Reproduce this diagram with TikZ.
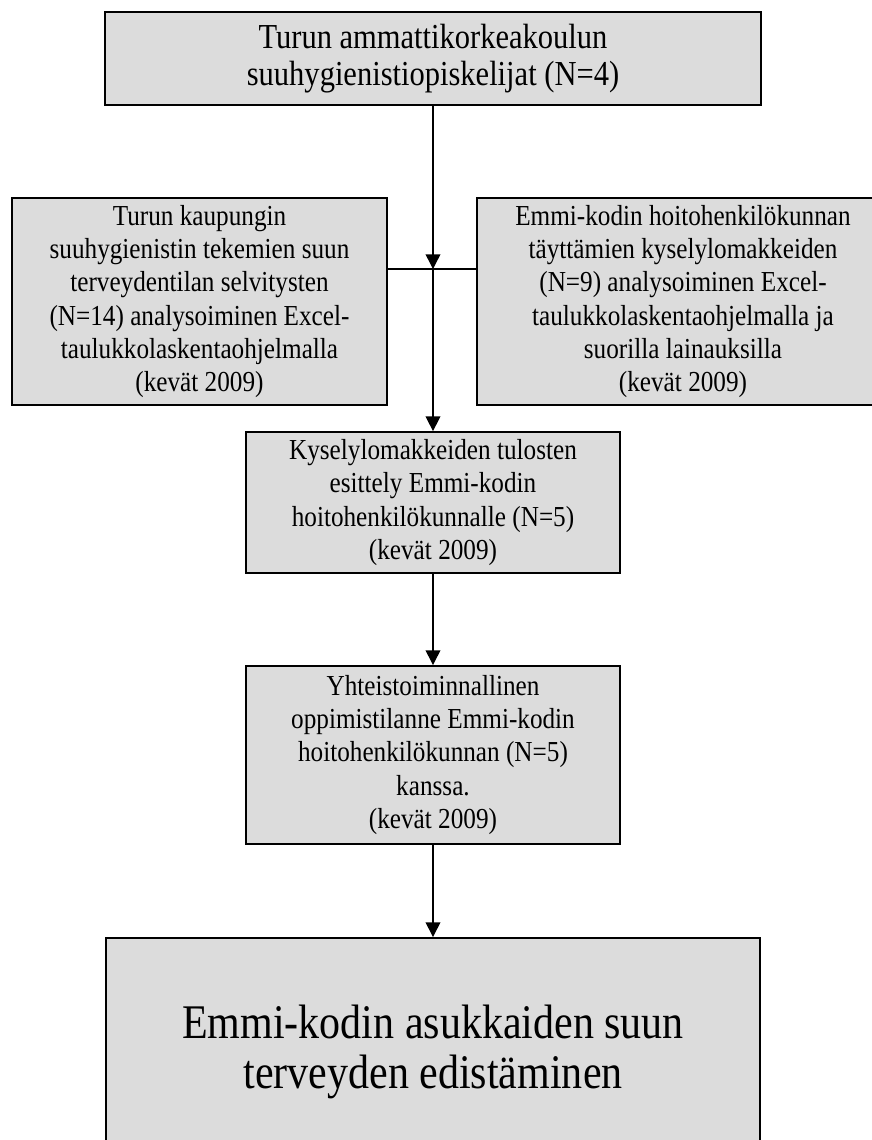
\documentclass[tikz,border=0pt]{standalone}
\usepackage{fontspec}
\setmainfont[FakeStretch=0.87]{Liberation Serif}
\usetikzlibrary{arrows.meta}
\definecolor{boxgray}{RGB}{220,220,220}

\begin{document}
\begin{tikzpicture}[
  x=0.4762pt, y=-0.4762pt,
  box/.style={draw, line width=0.9pt, fill=boxgray, align=center, inner sep=0pt,
    font=\fontsize{13.8}{15.8}\selectfont},
  flow/.style={line width=0.7pt, -{Triangle[width=7pt,length=7pt]}}
]
\clip (0,0) rectangle (872,1140);

\node [box, minimum width=312.4pt, minimum height=44.3pt,
  font=\fontsize{16.7}{17.8}\selectfont] (students) at (433,58.5)
  {Turun ammattikorkeakoulun\\suuhygienistiopiskelijat (N=4)};

\node [box, minimum width=178.6pt, minimum height=98.6pt] (city) at (199.5,301.5)
  {Turun kaupungin\\suuhygienistin tekemien suun\\terveydentilan selvitysten\\
   (N=14) analysoiminen Excel-\\taulukkolaskentaohjelmalla\\(kevät 2009)};
\node [box, minimum width=196.2pt, minimum height=98.6pt] (staff) at (683,301.5)
  {Emmi-kodin hoitohenkilökunnan\\täyttämien kyselylomakkeiden\\(N=9) analysoiminen Excel-\\
   taulukkolaskentaohjelmalla ja\\suorilla lainauksilla\\(kevät 2009)};

\node [box, minimum width=178.1pt, minimum height=67.1pt] (results) at (433,502.5)
  {Kyselylomakkeiden tulosten\\esittely Emmi-kodin\\hoitohenkilökunnalle (N=5)\\(kevät 2009)};
\node [box, minimum width=178.1pt, minimum height=84.8pt] (session) at (433,755)
  {Yhteistoiminnallinen\\oppimistilanne Emmi-kodin\\hoitohenkilökunnan (N=5)\\kanssa.\\(kevät 2009)};

\node [box, minimum width=311.4pt, minimum height=108.6pt,
  font=\fontsize{23}{24}\selectfont] (health) at (433,1052)
  {Emmi-kodin asukkaiden suun\\terveyden edistäminen};

\coordinate (join) at (433,269);
\draw [line width=0.7pt] (city.east |- join) -- (staff.west |- join);
\draw [flow] (students) -- (join);
\draw [flow] (join) -- (results);
\draw [flow] (results) -- (session);
\draw [flow] (session) -- (health);
\end{tikzpicture}
\end{document}
